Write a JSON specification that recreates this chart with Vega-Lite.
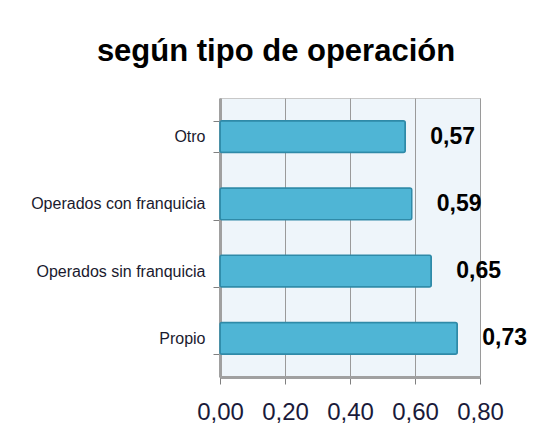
{
  "$schema": "https://vega.github.io/schema/vega-lite/v6.json",
  "width": 260,
  "height": 279,
  "autosize": "none",
  "padding": {"left": 220, "top": 98, "right": 69, "bottom": 64},
  "background": "white",
  "title": {
    "text": "según tipo de operación",
    "font": "Liberation Sans, Arial, sans-serif",
    "fontSize": 31,
    "fontWeight": "bold",
    "color": "#000000",
    "anchor": "middle",
    "frame": "group",
    "dx": -74,
    "offset": 22
  },
  "config": {
    "locale": {"number": {"decimal": ",", "thousands": ".", "grouping": [3], "currency": ["", " €"]}},
    "view": {"fill": "#eef5fa", "stroke": "#c8c8c8"},
    "font": "Liberation Sans, Arial, sans-serif"
  },
  "data": {
    "values": [
      {"tipo": "Otro", "valor": 0.57},
      {"tipo": "Operados con franquicia", "valor": 0.59},
      {"tipo": "Operados sin franquicia", "valor": 0.65},
      {"tipo": "Propio", "valor": 0.73}
    ]
  },
  "encoding": {
    "y": {
      "field": "tipo",
      "type": "nominal",
      "sort": null,
      "scale": {"paddingInner": 0.53, "paddingOuter": 0.34},
      "axis": {
        "title": null,
        "tickBand": "extent",
        "tickSize": 7,
        "tickColor": "#808080",
        "domainColor": "#a0a0a0",
        "domainWidth": 3,
        "labelFontSize": 16,
        "labelColor": "#1a1a2e",
        "labelPadding": 8,
        "labelLimit": 250
      }
    },
    "x": {
      "field": "valor",
      "type": "quantitative",
      "scale": {"domain": [0, 0.8]},
      "axis": {
        "title": null,
        "values": [0, 0.2, 0.4, 0.6, 0.8],
        "format": ".2f",
        "grid": true,
        "gridColor": "#9a9a9a",
        "tickSize": 7,
        "tickColor": "#808080",
        "domainColor": "#a0a0a0",
        "domainWidth": 3,
        "labelFontSize": 24,
        "labelColor": "#1a1a3a",
        "labelPadding": 16,
        "labelFlush": false
      }
    }
  },
  "layer": [
    {
      "mark": {"type": "bar", "color": "#4fb5d5", "stroke": "#2f8aa8", "strokeWidth": 1.5, "cornerRadius": 2}
    },
    {
      "mark": {"type": "text", "align": "left", "baseline": "middle", "dx": 25, "fontSize": 23, "fontWeight": "bold", "color": "#000000"},
      "encoding": {"text": {"field": "valor", "type": "quantitative", "format": ".2f"}}
    }
  ]
}
